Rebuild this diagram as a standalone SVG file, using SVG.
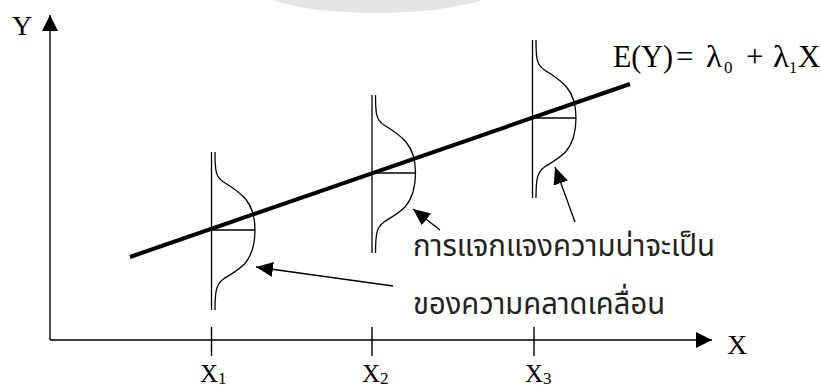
<svg xmlns="http://www.w3.org/2000/svg" width="821" height="390" viewBox="0 0 821 390">
<style>
.ax{stroke:#000;stroke-width:1.4;fill:none}
.dist{stroke:#000;stroke-width:1.3;fill:none}
.reg{stroke:#000;stroke-width:4;fill:none}
.ptr{stroke:#000;stroke-width:1.3;fill:none}
.tm{font-family:"Liberation Serif","Times New Roman",serif;fill:#000}
.th{font-family:"Noto Sans Thai","Noto Sans Thai UI","Loma","Garuda","Tlwg Typo","Noto Sans",sans-serif;fill:#222;font-size:30px}
</style>
<defs>
<marker id="ah" viewBox="0 0 17 15" refX="17" refY="7.5" markerWidth="17" markerHeight="15" markerUnits="userSpaceOnUse" orient="auto">
<path d="M0,0 L17,7.5 L0,15 z" fill="#000"/>
</marker>
<marker id="axh" viewBox="0 0 16 16" refX="16" refY="8" markerWidth="16" markerHeight="16" markerUnits="userSpaceOnUse" orient="auto">
<path d="M0,0 L16,8 L0,16 z" fill="#000"/>
</marker>
<g id="curve">
<line x1="0" y1="-78" x2="0" y2="80"/>
<line x1="0" y1="0" x2="43.5" y2="0"/>
<path d="M3.5,-78 C3.5,-60 4,-53 12,-48 C22,-42 28,-38 34,-31 C40,-24 43.5,-14 43.5,0 C43.5,14 40,26 33,34 C26,41 18,45 12,49 C5,54 3.5,60 3.5,80"/>
</g>
</defs>
<rect width="821" height="390" fill="#fff"/>
<ellipse cx="377" cy="-20" rx="132" ry="33" fill="#e4e4e4"/>
<g id="axes">
<line class="ax" x1="50" y1="340" x2="50" y2="15" marker-end="url(#axh)"/>
<line class="ax" x1="50" y1="340" x2="712" y2="340" marker-end="url(#axh)"/>
<line class="ax" x1="211.5" y1="327" x2="211.5" y2="356"/>
<line class="ax" x1="372" y1="327" x2="372" y2="356"/>
<line class="ax" x1="534" y1="327" x2="534" y2="356"/>
<text class="tm" x="12" y="35" font-size="28">Y</text>
<text class="tm" x="727" y="354" font-size="28">X</text>
<text class="tm" x="200" y="382" font-size="25">X<tspan font-size="17" dy="2">1</tspan></text>
<text class="tm" x="362" y="382" font-size="25">X<tspan font-size="17" dy="2">2</tspan></text>
<text class="tm" x="525" y="382" font-size="25">X<tspan font-size="17" dy="2">3</tspan></text>
</g>
<g id="dist1" class="dist"><use href="#curve" transform="translate(211.5,230)"/></g>
<g id="dist2" class="dist"><use href="#curve" transform="translate(372,173)"/></g>
<g id="dist3" class="dist"><use href="#curve" transform="translate(532.5,118)"/></g>
<g id="regression">
<line class="reg" x1="130" y1="257" x2="630" y2="84"/>
<g class="tm" font-size="31">
<text x="613" y="67" textLength="60" lengthAdjust="spacingAndGlyphs">E(Y)</text>
<text x="676" y="67">=</text>
<text x="706" y="67" textLength="16" lengthAdjust="spacingAndGlyphs">λ</text>
<text x="724" y="73" font-size="17">0</text>
<text x="746" y="67">+</text>
<text x="773" y="67" textLength="16" lengthAdjust="spacingAndGlyphs">λ</text>
<text x="789" y="73" font-size="16">1</text>
<text x="798" y="67">X</text>
</g>
</g>
<g id="connectors">
<line class="ptr" x1="393" y1="286" x2="256" y2="267" marker-end="url(#ah)"/>
<line class="ptr" x1="440" y1="230" x2="413" y2="209" marker-end="url(#ah)"/>
<line class="ptr" x1="575" y1="222" x2="555" y2="167" marker-end="url(#ah)"/>
</g>
<g id="label">
<text class="th" x="413" y="256" textLength="302" lengthAdjust="spacingAndGlyphs">การแจกแจงความน่าจะเป็น</text>
<text class="th" x="413" y="314" textLength="252" lengthAdjust="spacingAndGlyphs">ของความคลาดเคลื่อน</text>
</g>
</svg>
